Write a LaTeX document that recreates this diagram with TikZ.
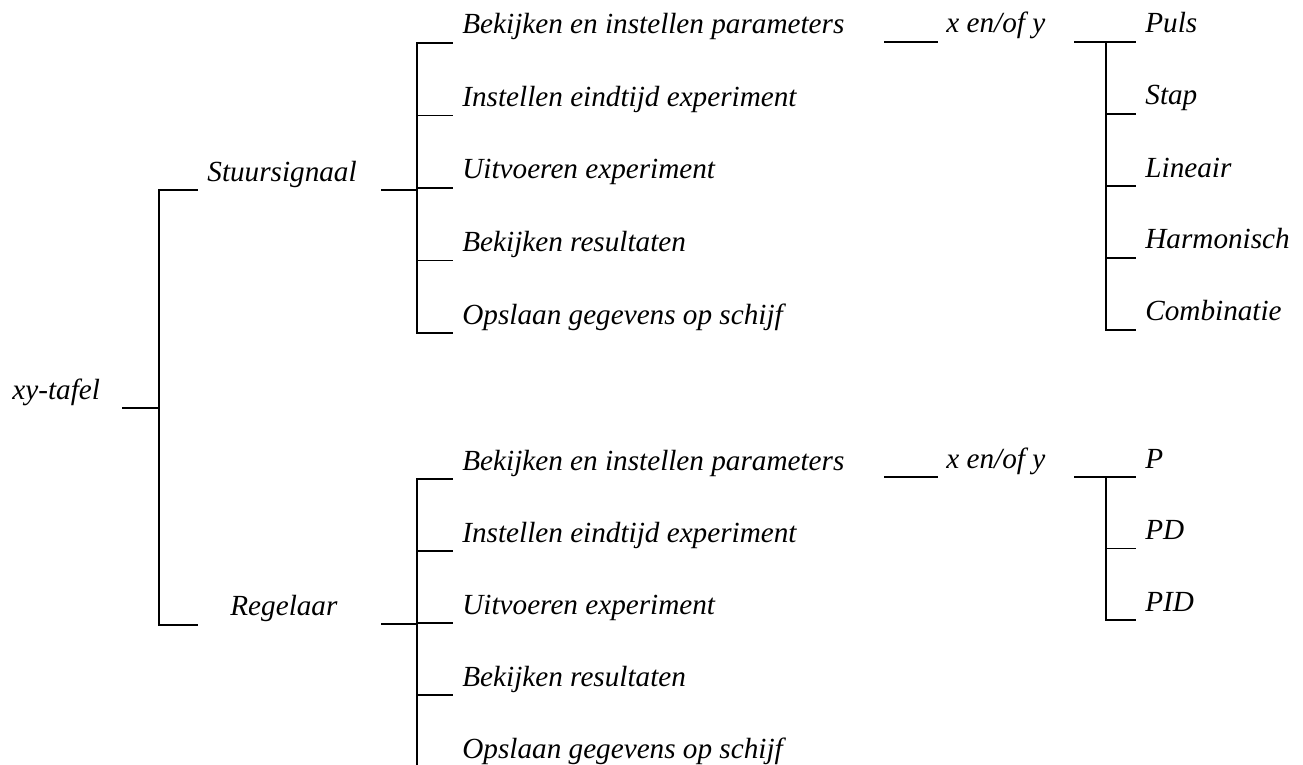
\documentclass[tikz,border=0pt]{standalone}
\usepackage{fontspec}
\setmainfont{Liberation Serif}
\usetikzlibrary{positioning, calc}

\tikzset{
  lbl/.style={anchor=base west, inner sep=0pt, font=\fontsize{14.6}{17}\selectfont\itshape},
  twig/.style={line width=0.9pt, line cap=rect},
}

\begin{document}
\begin{tikzpicture}[x=0.5pt, y=-0.5pt]
\useasboundingbox (0,0) rectangle (1303,765);

% root and the two main branches
\node[lbl] (root) at (12,400) {xy-tafel};
\node[lbl] (stuur) at (207,182) {Stuursignaal};
\node[lbl] (regel) at (230,615) {Regelaar};
\coordinate (rootout) at (123,408);
\coordinate (trunk) at (159,408);
\coordinate (stuurin) at ([shift={(-10,8)}]stuur.base west);
\coordinate (regelin) at ([shift={(-33,10)}]regel.base west);
\draw[twig] (rootout) -- (trunk);
\draw[twig] (stuurin) -- (trunk |- stuurin) -- (trunk |- regelin) -- (regelin);

% steps under Stuursignaal
\foreach \t [count=\i] in {Bekijken en instellen parameters, Instellen eindtijd experiment,
    Uitvoeren experiment, Bekijken resultaten, Opslaan gegevens op schijf}
  \node[lbl] (sa\i) at (462,{34+72.5*(\i-1)}) {\t};
\coordinate (sout) at (382,190);
\coordinate (sfork) at (417,190);
\draw[twig] (sout) -- (sfork);
\foreach \i in {1,...,5}
  \draw[twig] ([yshift=-4.5pt]sfork |- sa\i.base west) -- ([shift={(-10,9)}]sa\i.base west);
\draw[twig] ([yshift=-4.5pt]sfork |- sa1.base west) -- ([yshift=-4.5pt]sfork |- sa5.base west);

% steps under Regelaar
\foreach \t [count=\i] in {Bekijken en instellen parameters, Instellen eindtijd experiment,
    Uitvoeren experiment, Bekijken resultaten, Opslaan gegevens op schijf}
  \node[lbl] (ra\i) at (462,{470+72*(\i-1)}) {\t};
\coordinate (rout) at (382,624);
\coordinate (rfork) at (417,624);
\draw[twig] (rout) -- (rfork);
\foreach \i in {1,...,5}
  \draw[twig] ([yshift=-4.5pt]rfork |- ra\i.base west) -- ([shift={(-10,9)}]ra\i.base west);
\draw[twig] ([yshift=-4.5pt]rfork |- ra1.base west) -- ([yshift=-4.5pt]rfork |- ra5.base west);

% x en/of y -> signal types
\node[lbl] (xy1) at (946,33) {x en/of y};
\coordinate (xin1) at (885,42);
\draw[twig] (xin1) -- ([shift={(-9,9)}]xy1.base west);
\foreach \t [count=\i] in {Puls, Stap, Lineair, Harmonisch, Combinatie}
  \node[lbl] (sig\i) at (1145,{33+72*(\i-1)}) {\t};
\coordinate (xout1) at (1075,42);
\coordinate (xfork1) at (1106,42);
\draw[twig] (xout1) -- (xfork1);
\foreach \i in {1,...,5}
  \draw[twig] ([yshift=-4.5pt]xfork1 |- sig\i.base west) -- ([shift={(-10,9)}]sig\i.base west);
\draw[twig] (xfork1) -- ([yshift=-4.5pt]xfork1 |- sig5.base west);

% x en/of y -> controller types
\node[lbl] (xy2) at (946,468) {x en/of y};
\coordinate (xin2) at (885,477);
\draw[twig] (xin2) -- ([shift={(-9,9)}]xy2.base west);
\foreach \t [count=\i] in {P, PD, PID}
  \node[lbl] (ctl\i) at (1145,{468+71.5*(\i-1)}) {\t};
\coordinate (xout2) at (1075,477);
\coordinate (xfork2) at (1106,477);
\draw[twig] (xout2) -- (xfork2);
\foreach \i in {1,...,3}
  \draw[twig] ([yshift=-4.5pt]xfork2 |- ctl\i.base west) -- ([shift={(-10,9)}]ctl\i.base west);
\draw[twig] (xfork2) -- ([yshift=-4.5pt]xfork2 |- ctl3.base west);
\end{tikzpicture}
\end{document}
